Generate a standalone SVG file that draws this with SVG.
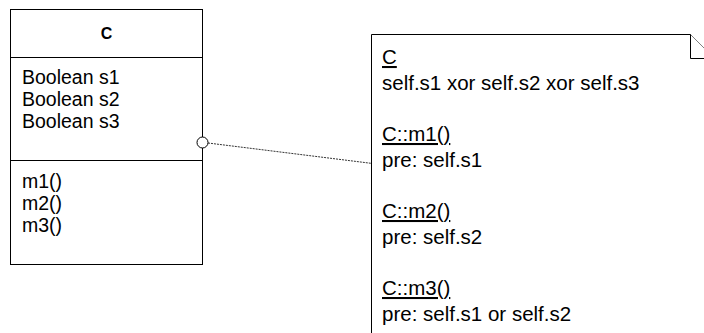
<svg xmlns="http://www.w3.org/2000/svg" width="704" height="333" viewBox="0 0 704 333">
<style>
.box{fill:#fff;stroke:#000;stroke-width:1}
.t{font-family:"Liberation Sans",Arial,sans-serif;font-size:20.5px;fill:#000}
.a{font-family:"Liberation Sans",Arial,sans-serif;font-size:19.5px;fill:#000}
.h{font-family:"Liberation Sans",Arial,sans-serif;font-size:16px;font-weight:bold;fill:#000}
.u{text-decoration:underline}
.conn{stroke:#333;stroke-width:1;stroke-dasharray:2,1;fill:none}
</style>
<rect width="704" height="333" fill="#fff"/>
<g id="class-C">
<rect class="box" x="10.5" y="9.5" width="192" height="255"/>
<line class="box" x1="10.5" y1="57.5" x2="202.5" y2="57.5"/>
<line class="box" x1="10.5" y1="160.5" x2="202.5" y2="160.5"/>
<text class="h" x="106.5" y="39" text-anchor="middle">C</text>
<text class="a" x="22" y="84">Boolean s1</text>
<text class="a" x="22" y="106">Boolean s2</text>
<text class="a" x="22" y="128">Boolean s3</text>
<text class="a" x="22" y="188">m1()</text>
<text class="a" x="22" y="210">m2()</text>
<text class="a" x="22" y="232">m3()</text>
</g>
<g id="note">
<path class="box" d="M371.5,34.5 H690.5 L714.5,58.5 V340 H371.5 Z"/>
<path class="box" d="M690.5,34.5 V58.5 H714.5" fill="none"/>
<text class="t u" x="382" y="64">C</text>
<text class="t" x="382" y="90">self.s1 xor self.s2 xor self.s3</text>
<text class="t u" x="382" y="141">C::m1()</text>
<text class="t" x="382" y="167">pre: self.s1</text>
<text class="t u" x="382" y="218">C::m2()</text>
<text class="t" x="382" y="244">pre: self.s2</text>
<text class="t u" x="382" y="295">C::m3()</text>
<text class="t" x="382" y="321">pre: self.s1 or self.s2</text>
</g>
<g id="connectors">
<line class="conn" x1="208" y1="143" x2="371" y2="163.3"/>
<circle cx="202.5" cy="142.5" r="5.5" fill="#fff" stroke="#000" stroke-width="1"/>
</g>
</svg>
